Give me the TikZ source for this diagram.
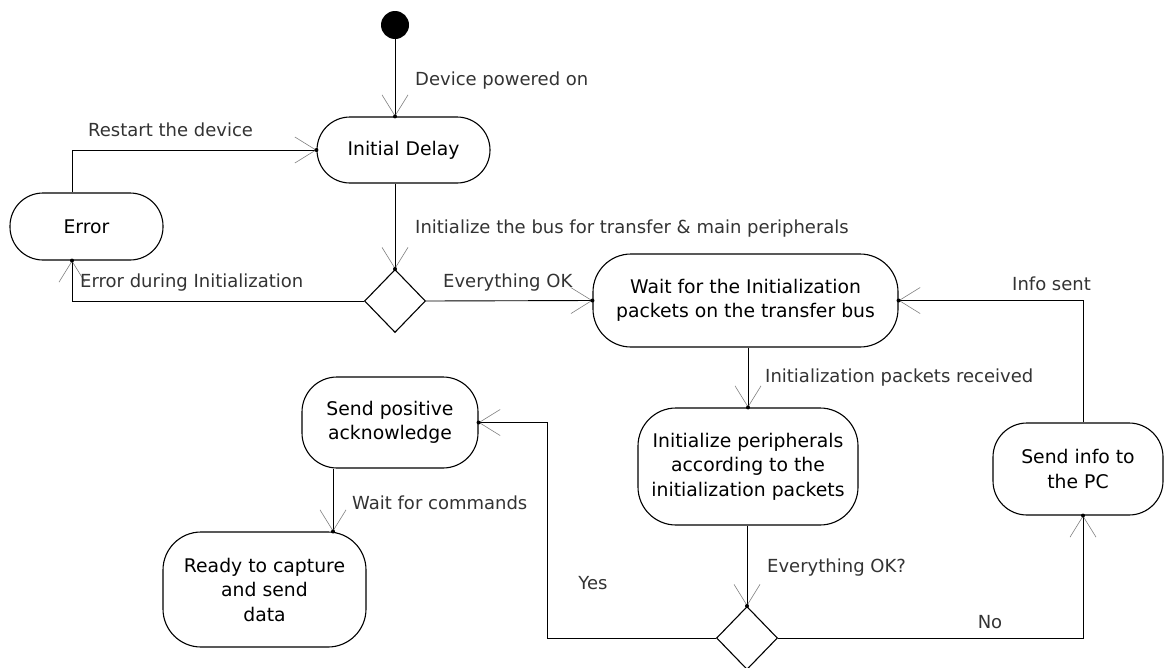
\documentclass[tikz,border=0pt]{standalone}
\usepackage{fontspec}
\setmainfont{DejaVu Sans}
\usetikzlibrary{arrows.meta,shapes.geometric}

\tikzset{
  actbox/.style={draw, line width=1.1pt, rounded corners=#1, align=center,
    inner sep=0pt, font=\fontsize{18.8}{24.5}\selectfont},
  actbox/.default=33pt,
  choice/.style={draw, diamond, line width=1.1pt, inner sep=0pt,
    minimum width=61pt, minimum height=63pt},
  initial/.style={circle, fill, inner sep=0pt, minimum size=28pt},
  flow/.style={line width=0.9pt,
    -{Straight Barb[length=21pt,width=26pt,line width=0.6pt,color=black!50]}},
  lbl/.style={inner sep=0pt, anchor=west, text=black!80,
    font=\fontsize{18}{22}\selectfont},
}
\newcommand\tipdot[1]{\fill (#1) circle (2pt);}

\begin{document}
\begin{tikzpicture}[x=1pt,y=-1pt]
\useasboundingbox (0,0) rectangle (1166,667);

% activities
\node[initial] (start) at (395,25) {};
\node[actbox, minimum width=173pt, minimum height=66pt] (delay) at (403.5,150) {Initial Delay};
\node[actbox, minimum width=153pt, minimum height=67pt] (error) at (86.5,226.5) {Error};
\node[choice] (d1) at (395,301) {};
\node[actbox=38pt, minimum width=305pt, minimum height=93pt] (wait) at (745.5,300.5)
  {Wait for the Initialization\\packets on the transfer bus};
\node[actbox=38pt, minimum width=220pt, minimum height=117pt] (init) at (748,466.5)
  {Initialize peripherals\\according to the\\initialization packets};
\node[choice] (d2) at (747,638) {};
\node[actbox=35pt, minimum width=176pt, minimum height=91pt] (ack) at (390,422.5)
  {Send positive\\acknowledge};
\node[actbox=38pt, minimum width=203pt, minimum height=115pt] (ready) at (264.5,589.5)
  {Ready to capture\\and send\\data};
\node[actbox=34pt, minimum width=170pt, minimum height=92pt] (info) at (1078,469)
  {Send info to\\the PC};

% transitions
\draw[flow] (start) -- (start |- delay.north);
\tipdot{start |- delay.north}
\draw[flow] ([xshift=-14.5pt]error.north) |- (delay.west);
\tipdot{delay.west}
\draw[flow] (d1.north |- delay.south) -- (d1.north);
\tipdot{d1.north}
\draw[flow] (d1.west) -| ([xshift=-14.5pt]error.south);
\tipdot{[xshift=-14.5pt]error.south}
\draw[flow] (d1.east) -- (wait.west);
\tipdot{wait.west}
\draw[flow] (init.north |- wait.south) -- (init.north);
\tipdot{init.north}
\draw[flow] (d2.north |- init.south) -- (d2.north);
\tipdot{d2.north}
\coordinate (ybend) at (547,638);
\draw[flow] (d2.west) -- (ybend) |- (ack.east);
\tipdot{ack.east}
\draw[flow] ([xshift=-57pt]ack.south) -- ([xshift=-57pt]ack.south |- ready.north);
\tipdot{[xshift=-57pt]ack.south |- ready.north}
\draw[flow] (d2.east) -| ([xshift=5pt]info.south);
\tipdot{[xshift=5pt]info.south}
\draw[flow] ([xshift=5pt]info.north) |- (wait.east);
\tipdot{wait.east}

% guard and event labels
\node[lbl] (l1) at (415,81) {Device powered on};
\node[lbl] (l2) at (88,130) {Restart the device};
\node[lbl] (l3) at (415,229) {Initialize the bus for transfer \& main peripherals};
\node[lbl] (l4) at (80,283) {Error during Initialization};
\node[lbl] (l5) at (443,283) {Everything OK};
\node[lbl] (l6) at (1012,284) {Info sent};
\node[lbl] (l7) at (765,378) {Initialization packets received};
\node[lbl] (l8) at (352,503) {Wait for commands};
\node[lbl] (l9) at (767,568) {Everything OK?};
\node[lbl, anchor=center] (l10) at (593,583) {Yes};
\node[lbl, anchor=center] (l11) at (990,622) {No};
\end{tikzpicture}
\end{document}
